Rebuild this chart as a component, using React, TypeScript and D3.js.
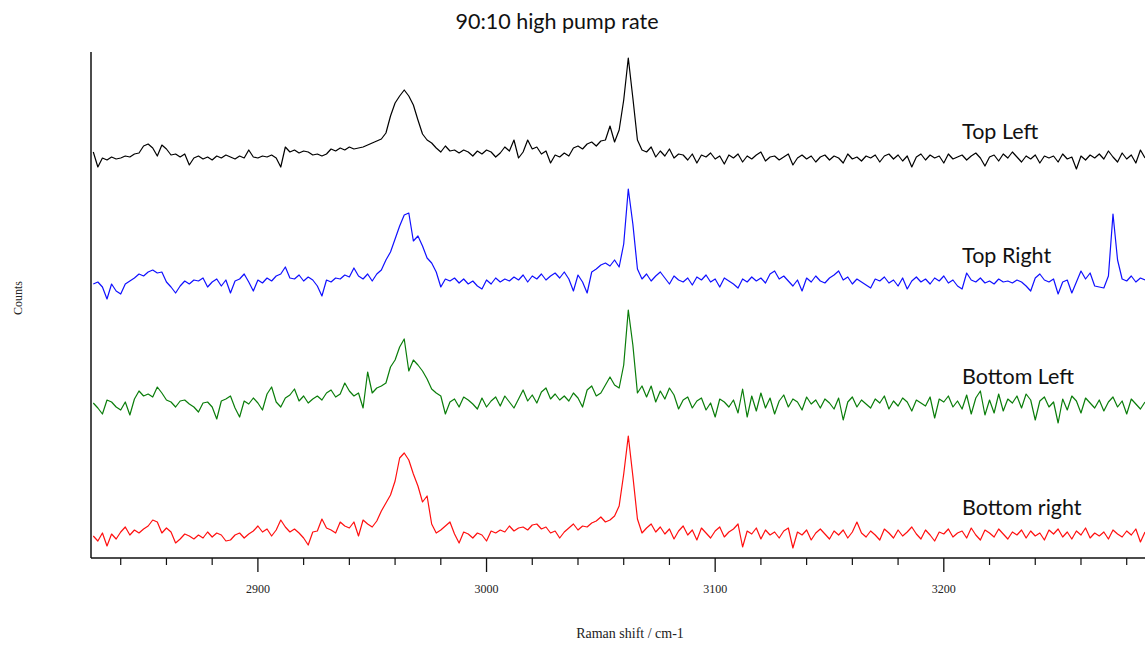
import React from 'react';
import * as d3 from 'd3';

const title = '90:10 high pump rate';
const xLabel = 'Raman shift / cm-1';
const yLabel = 'Counts';
const majorTicks = [2900, 3000, 3100, 3200];
const minorTicks = [2840, 2860, 2880, 2920, 2940, 2960, 2980, 3020, 3040, 3060, 3080, 3120, 3140, 3160, 3180, 3220, 3240, 3260, 3280];
const shiftStart = 2828;
const shiftStep = 2;
const seriesNames = ['Top Left', 'Top Right', 'Bottom Left', 'Bottom right'];
const seriesColors = ['#000000', '#1010ff', '#0a7d0a', '#ff0f0f'];
const seriesOffsets = [398, 274, 153, 22];

const topLeft = [
  8, -7, 2, 0, 3, 1, 2, 4, 3, 6,
  7, 14, 16, 12, 4, 15, 11, 5, 6, 3,
  6, -5, 2, 4, 1, 3, 0, 4, 2, 5,
  3, 1, 4, 2, 10, 3, 2, 4, 3, 5,
  2, -7, 13, 8, 10, 7, 9, 8, 5, 6,
  4, 6, 11, 9, 12, 10, 13, 11, 12, 13,
  15, 17, 19, 21, 27, 44, 57, 64, 70, 64,
  55, 40, 26, 20, 17, 12, 8, 14, 9, 10,
  7, 10, 8, 4, 9, 6, 10, 8, 3, 7,
  13, 9, 20, 2, 8, 20, 11, 13, 6, 9,
  -3, 5, 3, 7, 4, 12, 14, 11, 16, 18,
  14, 19, 20, 34, 18, 30, 60, 102, 62, 20,
  10, 8, 13, 3, 9, 4, 11, 2, 6, 5,
  0, 6, -3, 5, 3, 7, 1, 4, -4, 5,
  2, 6, -2, 4, 1, 5, 8, -1, 3, 4,
  0, 3, 6, -5, 2, 5, 1, 4, -2, 3,
  5, 0, 4, 2, -3, 6, 1, 3, -1, 4,
  2, 5, -2, 4, 6, 1, 5, -1, 4, -7,
  3, 6, 0, 5, 2, 4, -3, 6, 1, 3,
  5, 0, 4, 7, 2, -6, 3, 5, -1, 6,
  2, 8, 3, -2, 4, 1, 5, -3, 4, 2,
  4, -2, 6, 1, 3, -9, 4, 0, 5, 2,
  6, 1, 9, 3, -2, 7, 1, 5, -3, 10,
  2,
];

const topRight = [
  0, 2, -3, -15, 0, -7, -10, 0, 3, 6,
  10, 8, 12, 14, 11, 12, 2, -3, -9, -2,
  3, 0, 4, 3, 6, -3, 2, 5, -2, 4,
  -9, 3, 5, 10, 2, -7, 4, 1, 6, 3,
  8, 10, 17, 6, 5, 9, 3, 7, 4, -2,
  -12, 4, 2, 6, 5, 9, 7, 16, 8, 5,
  10, 3, 10, 14, 24, 32, 45, 58, 69, 71,
  43, 48, 38, 26, 21, 12, -3, 5, 3, 6,
  1, 5, 0, 3, -2, -5, 4, 0, 6, 2,
  5, 3, 7, 4, 9, 2, 8, 5, 10, 4,
  8, 11, 6, 12, 5, -7, 9, 2, -9, 12,
  15, 19, 21, 18, 24, 17, 40, 95, 60, 15,
  5, 10, 3, 8, 12, 6, 0, 8, 4, 2,
  6, -1, 7, 4, 9, 2, 5, -3, 6, 3,
  0, -4, 5, 2, 7, 3, 6, 1, 10, 13,
  5, 8, 3, -2, 4, -7, 6, 2, 8, 3,
  1, 6, 9, 13, 4, 7, 0, 5, 2, -1,
  -4, 5, 3, 7, 1, 4, -2, 6, -5, 3,
  7, 2, 5, 0, 6, 3, 8, 1, 4, -2,
  -5, 11, 4, 2, 6, 1, 3, 0, 5, 2,
  3, 1, 4, 2, -2, -7, 6, 10, 4, 2,
  5, -10, 2, 4, -9, 2, 13, 5, 11, -2,
  -3, -4, 8, 70, 24, 5, 3, 8, 2, 6,
  4,
];

const bottomLeft = [
  2, -3, -9, 5, 3, -2, -5, 3, -10, 6,
  14, 9, 11, 8, 18, 12, 5, 3, -2, 4,
  5, 1, -2, -7, 2, 3, -2, -14, 4, 6,
  9, -3, -12, 4, 1, 7, 2, -5, 11, 18,
  3, -2, 7, 10, 16, 4, 9, 2, 6, 9,
  5, 12, 15, 8, 11, 22, 14, 9, 12, -3,
  33, 12, 17, 19, 22, 38, 45, 58, 66, 34,
  45, 40, 34, 26, 16, 12, 9, -9, 3, 6,
  -2, 8, 5, 1, -4, 7, -2, 4, 8, -1,
  9, 3, -3, 6, 15, 4, 10, 2, 13, 17,
  6, 11, 5, 9, 4, 12, 7, -2, 15, 19,
  9, 12, 20, 28, 20, 17, 40, 95, 60, 12,
  19, 8, 19, 3, 14, 6, 17, 10, -4, 5,
  8, -3, 4, 7, -5, 2, -12, 6, 3, -2,
  5, -8, 16, -12, 9, -6, 12, -3, 7, -9,
  4, 10, -2, 6, 3, -5, 8, 1, 5, -3,
  6, 2, -4, 7, -15, 3, 8, -2, 5, 1,
  -3, 6, 2, 9, -4, 4, -1, 7, 3, -6,
  5, 2, -1, 8, -13, 6, 3, 9, -2, 4,
  -4, 10, -9, 7, 14, -10, 5, -8, 11, -6,
  6, 2, 9, -3, 11, 5, -15, 4, 8, -2,
  3, -18, 6, -5, 9, 4, -8, 7, 2, -3,
  5, -6, 3, 8, -2, 4, -9, 6, 1, -4,
  3,
];

const bottomRight = [
  0, -5, 3, -10, 2, -3, 4, 9, 1, 6,
  3, 7, 10, 16, 14, 3, 8, 4, -7, -3,
  2, 0, -3, 1, -2, 4, -1, 3, 1, -5,
  -4, 1, 3, -2, 2, 5, 10, 4, 7, 0,
  6, 16, 9, 4, 7, 3, -2, -9, 4, 5,
  17, 8, 6, 3, 14, 10, 8, 14, 0, 16,
  12, 9, 15, 25, 33, 41, 55, 78, 83, 76,
  62, 50, 34, 40, 12, 3, 6, 10, 14, 2,
  -7, 4, 2, -2, 3, 1, -5, 5, 3, 6,
  4, 10, 5, 8, 9, 6, 11, 12, 7, 9,
  3, 5, -2, 4, 8, 12, 6, 10, 9, 13,
  15, 19, 14, 16, 20, 30, 62, 100, 60, 17,
  3, 8, 12, 4, 9, 2, 7, -3, 5, 10,
  1, 6, -4, 8, 3, -2, 5, 9, -1, 4,
  7, 12, -11, 5, 2, 8, -3, 6, 1, 4,
  -2, 5, 8, -12, 4, 1, 6, -4, 3, 7,
  2, -3, 5, 1, 6, -2, 4, 14, 3, -1,
  5, 1, -4, 7, 3, -2, 6, 0, 4, 9,
  2, -3, 6, 1, -5, 4, 2, 7, -1, 3,
  5, -2, 8, 1, -4, 6, 3, -1, 7, 2,
  -3, 4, 1, 6, -2, 5, 0, 3, -4, 6,
  2, 7, -1, 4, -3, 5, 1, 8, -2, 3,
  0, 4, -3, 6, 2, -1, 5, 1, 7, -6,
  4,
];

const seriesValues = [topLeft, topRight, bottomLeft, bottomRight];

const W = 1145;
const H = 647;

export default function App() {
  const x = d3.scaleLinear().domain([2827, 3288]).range([91, 1145]);
  const y = d3.scaleLinear().domain([0, 506]).range([558, 52]);
  const axisY = y(0);

  const lines = seriesValues.map((vals, si) => {
    const pts: [number, number][] = vals.map((v, i) => [shiftStart + i * shiftStep, v + seriesOffsets[si]]);
    const gen = d3.line<[number, number]>().x((d) => x(d[0])).y((d) => y(d[1]));
    return gen(pts) || '';
  });

  const sans = 'Lato, "Open Sans", sans-serif';
  const serif = '"Liberation Serif", "DejaVu Serif", serif';

  return (
    <svg
      width={W}
      height={H}
      style={{ position: 'absolute', left: 0, top: 0, display: 'block', background: '#fff' }}
    >
      <rect x={0} y={0} width={W} height={H} fill="#fff" />
      <text x={557} y={29} textAnchor="middle" fontFamily={sans} fontSize={21.5} fill="#111">
        {title}
      </text>
      {lines.map((d, i) => (
        <path key={i} d={d} fill="none" stroke={seriesColors[i]} strokeWidth={1.2} strokeLinejoin="round" />
      ))}
      {seriesNames.map((n, i) => (
        <text
          key={n}
          x={x(3208)}
          y={y(seriesOffsets[i] + 21)}
          fontFamily={sans}
          fontSize={21.5}
          fill="#111"
        >
          {n}
        </text>
      ))}
      <line x1={x(2827)} x2={x(2827)} y1={52} y2={axisY} stroke="#111" strokeWidth={1.5} />
      <line x1={x(2827)} x2={W} y1={axisY} y2={axisY} stroke="#111" strokeWidth={1.5} />
      {minorTicks.map((t) => (
        <line key={'m' + t} x1={x(t)} x2={x(t)} y1={axisY} y2={axisY + 7} stroke="#111" strokeWidth={1.2} />
      ))}
      {majorTicks.map((t) => (
        <g key={'M' + t}>
          <line x1={x(t)} x2={x(t)} y1={axisY} y2={axisY + 14} stroke="#111" strokeWidth={1.3} />
          <text x={x(t)} y={593} textAnchor="middle" fontFamily={serif} fontSize={12} fill="#222">
            {t}
          </text>
        </g>
      ))}
      <text x={630} y={638} textAnchor="middle" fontFamily={serif} fontSize={14} fill="#222">
        {xLabel}
      </text>
      <text
        transform={`translate(22,298) rotate(-90)`}
        textAnchor="middle"
        fontFamily={serif}
        fontSize={12}
        fill="#222"
      >
        {yLabel}
      </text>
    </svg>
  );
}
